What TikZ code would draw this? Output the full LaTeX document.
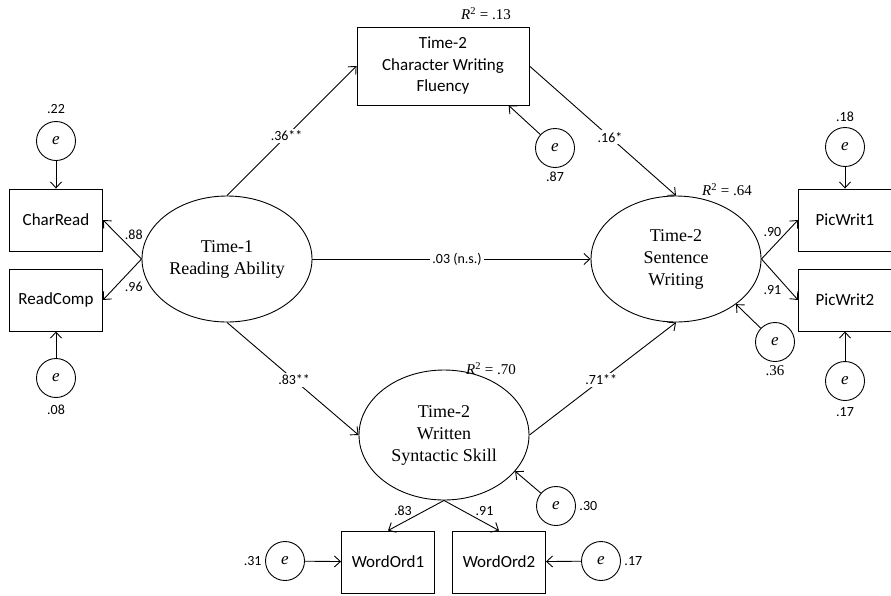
\documentclass[tikz,border=0pt]{standalone}
\usepackage{fontspec}
\setmainfont{Liberation Serif}
\setsansfont{Carlito}
\usetikzlibrary{arrows.meta, positioning, shapes.geometric}

\begin{document}
\begin{tikzpicture}[
    x=1pt, y=-1pt,
    latent/.style={
        ellipse,
        draw,
        line width=0.9pt,
        minimum width=170pt,
        minimum height=126pt,
        inner sep=0pt,
        align=center,
        font=\fontsize{18}{22}\selectfont,
    },
    observed/.style={
        rectangle,
        draw,
        line width=0.9pt,
        minimum width=93pt,
        minimum height=62pt,
        inner sep=0pt,
        align=center,
        font=\sffamily\fontsize{17}{21.5}\selectfont,
    },
    residual/.style={
        circle,
        draw,
        line width=0.9pt,
        minimum size=39pt,
        inner sep=0pt,
        font=\itshape\fontsize{17}{17}\selectfont,
        label distance=2pt,
    },
    effect/.style={
        line width=0.9pt,
        -{Straight Barb[length=6pt,width=11pt]},
    },
    coef/.style={
        font=\sffamily\fontsize{14}{16}\selectfont,
        fill=white,
        inner sep=2pt,
    },
    loading/.style={
        font=\sffamily\fontsize{14}{16}\selectfont,
        inner sep=1pt,
    },
    rsq/.style={
        font=\fontsize{15}{17}\selectfont,
    },
    every label/.style={
        font=\sffamily\fontsize{14}{16}\selectfont,
    },
]
    \useasboundingbox (0,0) rectangle (891,595);

    % Factors
    \node[latent] (read1) at (227,259) {Time-1\\Reading Ability};
    \node[latent] (sent2) at (676,259) {Time-2\\Sentence\\Writing};
    \node[latent, minimum height=130pt] (syn2) at (444,435) {Time-2\\Written\\Syntactic Skill};
    \node[observed, minimum width=172pt, minimum height=78pt] (char2) at (443,66) {Time-2\\Character Writing\\Fluency};

    % Indicators
    \node[observed] (charread) at (56,220) {CharRead};
    \node[observed] (readcomp) at (56,300) {ReadComp};
    \node[observed] (picwrit1) at (845,220) {PicWrit1};
    \node[observed] (picwrit2) at (845,300) {PicWrit2};
    \node[observed] (wordord1) at (388,562) {WordOrd1};
    \node[observed] (wordord2) at (499,562) {WordOrd2};

    % Residuals
    \node[residual, label={[label distance=4pt]above:.22}] (e1) at (56,141) {e};
    \node[residual, label={[label distance=3pt]below:.08}] (e2) at (56,378) {e};
    \node[residual, label={[label distance=2pt]above:.18}] (e3) at (845,147) {e};
    \node[residual, label={[label distance=3pt]below:.17}] (e4) at (845,381) {e};
    \node[residual, label=left:.31] (e5) at (285,561) {e};
    \node[residual, label=right:.17] (e6) at (601,561) {e};
    \node[residual, label=below:.87] (d1) at (555,148) {e};
    \node[residual, label={[font=\fontsize{15}{17}\selectfont]below:.36}] (d2) at (775,342) {e};
    \node[residual, label=right:.30] (d3) at (556,506) {e};

    % R squared
    \node[rsq] (r2char) at (486,14) {\textit{R}\textsuperscript{2} = .13};
    \node[rsq] (r2sent) at (727,190) {\textit{R}\textsuperscript{2} = .64};
    \node[rsq] (r2syn) at (491,369) {\textit{R}\textsuperscript{2} = .70};

    % Structural paths
    \draw[effect] (read1.north) -- node[coef, pos=0.46] {.36**} (char2.west);
    \draw[effect] (read1.east) -- node[coef, pos=0.52] {.03 (n.s.)} (sent2.west);
    \draw[effect] (read1.south) -- node[coef, pos=0.51] {.83**} (syn2.west);
    \draw[effect] (char2.east) -- node[coef, pos=0.55] {.16*} (sent2.north);
    \draw[effect] (syn2.east) -- node[coef, pos=0.49] {.71**} (sent2.south);

    % Loadings
    \draw[effect] (read1.west) -- node[loading, pos=0.2, above=10pt] {.88} (charread.east);
    \draw[effect] (read1.west) -- node[loading, pos=0.2, below=13pt] {.96} (readcomp.east);
    \draw[effect] (sent2.east) -- node[loading, pos=0.3, above=9pt] {.90} (picwrit1.west);
    \draw[effect] (sent2.east) -- node[loading, pos=0.3, below=13pt] {.91} (picwrit2.west);
    \draw[effect] (syn2.south) -- node[loading, pos=0.55, above left] {.83} (wordord1.north);
    \draw[effect] (syn2.south) -- node[loading, pos=0.55, above right] {.91} (wordord2.north);

    % Error terms
    \draw[effect] (e1) -- (charread);
    \draw[effect] (e2) -- (readcomp);
    \draw[effect] (e3) -- (picwrit1);
    \draw[effect] (e4) -- (picwrit2);
    \draw[effect] (e5) -- (wordord1);
    \draw[effect] (e6) -- (wordord2);
    \draw[effect] (d1) -- (char2.-31);
    \draw[effect] (d2) -- (sent2.-37);
    \draw[effect] (d3) -- (syn2.-27);
\end{tikzpicture}
\end{document}
